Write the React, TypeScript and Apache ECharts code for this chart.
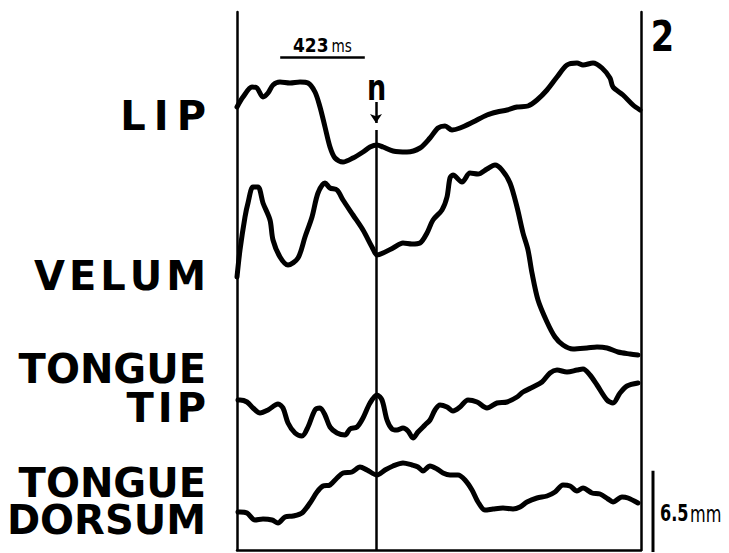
import React, { useEffect, useRef } from "react";
import * as echarts from "echarts";

// Time axis in ms, displacement axis in mm (stacked channel traces)
const X_MAX_MS = 2020;
const Y_MAX_MM = 43.04;
const NASAL_ONSET_MS = 695;
const N_LINE_TOP_MM = 33.6;
const N_ARROW_MM = [35.84, 34.16];
const TIME_BAR_MS = [216, 639]; // 423 ms
const TIME_BAR_Y_MM = 39.44;
const MM_BAR = 6.5;
const PANEL_NUMBER = "2";

const channelLabels = [
  { text: "L\u2009I\u2009P", y: 116, lineHeight: 40 },
  { text: "V\u200AE\u200AL\u200AU\u200AM", y: 276, lineHeight: 40 },
  { text: "TONGUE\nT\u200AI\u200AP", y: 388.5, lineHeight: 39 },
  { text: "TONGUE\nDORSUM", y: 501.5, lineHeight: 37 },
];

const lipTrace = [
  [0, 35.44], [30, 36.24], [75, 37.04], [100, 36.96], [130, 36.24], [155, 36.56],
  [180, 37.2], [215, 37.44], [265, 37.36], [315, 37.44], [355, 37.36], [390, 36.64],
  [415, 35.44], [440, 33.84], [465, 32.24], [490, 31.36], [530, 31.04], [580, 31.36],
  [630, 31.84], [665, 32.24], [700, 32.4], [730, 32.24], [780, 31.92], [850, 31.84],
  [915, 32.16], [965, 32.96], [1005, 33.76], [1040, 33.92], [1075, 33.6], [1115, 33.76],
  [1180, 34.24], [1250, 34.8], [1300, 35.04], [1350, 35.2], [1400, 35.44], [1455, 35.52],
  [1500, 36.0], [1550, 36.8], [1600, 37.84], [1650, 38.8], [1700, 38.96], [1730, 38.8],
  [1780, 38.96], [1825, 38.56], [1865, 37.76], [1880, 37.04], [1930, 36.4], [1980, 35.6],
  [2015, 35.2],
];

const velumTrace = [
  [0, 21.84], [15, 24.0], [40, 26.64], [55, 27.76], [80, 29.04], [105, 29.04],
  [130, 27.76], [165, 26.4], [180, 24.8], [215, 23.44], [255, 22.8], [305, 23.36],
  [340, 25.04], [375, 26.64], [405, 28.56], [440, 29.36], [465, 28.96], [500, 28.8],
  [530, 28.0], [580, 26.8], [630, 25.6], [675, 24.24], [700, 23.6], [730, 23.76],
  [780, 24.16], [830, 24.56], [875, 24.48], [915, 24.56], [950, 25.36], [980, 26.4],
  [1025, 27.2], [1050, 28.24], [1065, 29.76], [1080, 30.0], [1125, 29.44], [1165, 30.16],
  [1205, 30.08], [1250, 30.48], [1290, 30.8], [1325, 30.4], [1365, 29.36], [1400, 27.44],
  [1430, 25.36], [1455, 24.0], [1475, 22.16], [1505, 20.0], [1550, 18.24], [1590, 17.04],
  [1630, 16.4], [1680, 16.08], [1750, 16.16], [1800, 16.24], [1850, 16.16], [1905, 15.84],
  [1965, 15.68], [2005, 15.6],
];

const tongueTipTrace = [
  [5, 12.0], [15, 12.0], [50, 11.84], [80, 11.36], [115, 10.96], [155, 11.2], [205, 11.68],
  [230, 11.36], [255, 10.16], [290, 9.36], [325, 9.12], [355, 9.84], [390, 11.2],
  [415, 11.36], [440, 10.8], [465, 9.84], [500, 9.36], [540, 9.2], [565, 9.68],
  [600, 9.84], [630, 10.56], [665, 11.76], [700, 12.4], [725, 12.0], [750, 10.4],
  [775, 9.68], [800, 9.6], [830, 9.76], [855, 9.52], [880, 8.96], [905, 9.44],
  [940, 10.0], [965, 10.4], [990, 11.2], [1015, 11.6], [1050, 11.44], [1080, 11.12],
  [1115, 11.44], [1155, 12.0], [1200, 11.84], [1250, 11.36], [1300, 11.76], [1350, 11.84],
  [1400, 12.24], [1430, 12.64], [1480, 13.04], [1525, 13.44], [1565, 14.16], [1600, 14.4],
  [1650, 14.24], [1700, 14.4], [1730, 14.48], [1765, 14.0], [1800, 13.2], [1850, 12.0],
  [1880, 11.76], [1915, 12.56], [1950, 13.12], [2005, 13.36],
];

const tongueDorsumTrace = [
  [5, 3.04], [15, 3.04], [50, 2.96], [90, 2.4], [130, 2.48], [175, 2.4], [205, 2.16],
  [240, 2.64], [280, 2.72], [325, 2.96], [365, 3.76], [400, 4.64], [430, 5.12],
  [465, 5.2], [500, 5.76], [530, 6.16], [575, 6.24], [615, 6.64], [650, 6.4],
  [700, 6.0], [740, 6.4], [780, 6.72], [830, 6.96], [875, 6.8], [905, 6.64],
  [930, 6.32], [965, 6.72], [1000, 6.48], [1030, 6.16], [1065, 6.0], [1105, 6.0],
  [1140, 5.6], [1175, 4.8], [1205, 3.84], [1240, 3.2], [1280, 3.28], [1330, 3.36],
  [1380, 3.28], [1415, 3.44], [1450, 3.84], [1500, 4.16], [1550, 4.32], [1590, 4.64],
  [1630, 5.2], [1665, 5.12], [1700, 4.72], [1730, 4.96], [1775, 4.56], [1815, 4.48],
  [1855, 4.08], [1880, 3.84], [1925, 4.24], [1955, 4.16], [2005, 3.76],
];

const traces = [lipTrace, velumTrace, tongueTipTrace, tongueDorsumTrace];

const LABEL_FONT = 'bold 40px "DejaVu Sans", sans-serif';

export default function App() {
  const ref = useRef<HTMLDivElement>(null);

  useEffect(() => {
    document.body.style.margin = "0";
    if (!ref.current) return;
    const chart = echarts.init(ref.current, undefined, { renderer: "svg" });

    const lineStyle = { color: "#000", width: 5, cap: "round", join: "round" };

    const series: any[] = traces.map((data, i) => ({
      type: "line",
      name: channelLabels[i].text.replace(/\n/g, " "),
      data,
      showSymbol: false,
      smooth: 0.3,
      lineStyle,
      silent: true,
      clip: false,
    }));

    // markers: nasal onset line, arrow and 423 ms time bar
    series[0].markLine = {
      silent: true,
      animation: false,
      symbol: "none",
      label: { show: false },
      lineStyle: { color: "#000", width: 2.5, type: "solid" },
      data: [
        [{ coord: [NASAL_ONSET_MS, N_LINE_TOP_MM] }, { coord: [NASAL_ONSET_MS, 0] }],
        [{ coord: [TIME_BAR_MS[0], TIME_BAR_Y_MM] }, { coord: [TIME_BAR_MS[1], TIME_BAR_Y_MM] }],
        [
          { coord: [NASAL_ONSET_MS, N_ARROW_MM[0]], symbol: "none" },
          { coord: [NASAL_ONSET_MS, N_ARROW_MM[1]], symbol: "arrow", symbolSize: [9, 9] },
        ],
      ],
    };

    const axisLine = { show: true, onZero: false, lineStyle: { color: "#000", width: 2.5 } };

    chart.setOption({
      animation: false,
      backgroundColor: "#fff",
      grid: { left: 237, right: 88, top: 12, bottom: 3 },
      xAxis: {
        type: "value",
        min: 0,
        max: X_MAX_MS,
        axisLine,
        axisTick: { show: false },
        axisLabel: { show: false },
        splitLine: { show: false },
      },
      yAxis: [
        {
          type: "value",
          min: 0,
          max: Y_MAX_MM,
          axisLine,
          axisTick: { show: false },
          axisLabel: { show: false },
          splitLine: { show: false },
        },
        {
          type: "value",
          position: "right",
          min: 0,
          max: Y_MAX_MM,
          axisLine,
          axisTick: { show: false },
          axisLabel: { show: false },
          splitLine: { show: false },
        },
      ],
      series,
    });

    const p0 = chart.convertToPixel({ gridIndex: 0 }, [0, 0]) as number[];
    const p1 = chart.convertToPixel({ gridIndex: 0 }, [0, MM_BAR]) as number[];
    const mmLen = p0[1] - p1[1];
    const barMid = chart.convertToPixel({ gridIndex: 0 }, [(TIME_BAR_MS[0] + TIME_BAR_MS[1]) / 2, 0]) as number[];
    const nX = (chart.convertToPixel({ gridIndex: 0 }, [NASAL_ONSET_MS, 0]) as number[])[0];

    const elements: any[] = [];
    channelLabels.forEach((c) => {
      elements.push({
        type: "text",
        x: 206,
        y: c.y,
        style: {
          text: c.text,
          font: LABEL_FONT,
          lineHeight: c.lineHeight,
          fill: "#000",
          textAlign: "right",
          textVerticalAlign: "middle",
        },
      });
    });
    // time bar label
    elements.push({
      type: "text",
      x: barMid[0] + 6,
      y: 44.5,
      scaleX: 0.85,
      style: { text: String(TIME_BAR_MS[1] - TIME_BAR_MS[0]), font: 'bold 20px "DejaVu Sans", sans-serif', fill: "#000", textAlign: "right", textVerticalAlign: "middle" },
    });
    elements.push({
      type: "text",
      x: barMid[0] + 9,
      y: 46,
      scaleX: 0.8,
      style: { text: "ms", font: '17px "DejaVu Sans", sans-serif', fill: "#000", textAlign: "left", textVerticalAlign: "middle" },
    });
    // n label
    elements.push({
      type: "text",
      x: nX + 0.5,
      y: 87.5,
      scaleX: 0.75,
      style: { text: "n", font: 'bold 36px "DejaVu Sans", sans-serif', fill: "#000", textAlign: "center", textVerticalAlign: "middle" },
    });
    // panel number
    elements.push({
      type: "text",
      x: 662.5,
      y: 36.5,
      scaleX: 0.8,
      style: { text: PANEL_NUMBER, font: 'bold 42px "DejaVu Sans", sans-serif', fill: "#000", textAlign: "center", textVerticalAlign: "middle" },
    });
    // mm scale bar
    elements.push({
      type: "line",
      shape: { x1: 653, y1: 552, x2: 653, y2: 552 - mmLen },
      style: { stroke: "#000", lineWidth: 3 },
    });
    elements.push({
      type: "text",
      x: 660,
      y: 513.5,
      scaleX: 0.7,
      style: { text: String(MM_BAR), font: 'bold 23px "DejaVu Sans", sans-serif', fill: "#000", textAlign: "left", textVerticalAlign: "middle" },
    });
    elements.push({
      type: "text",
      x: 690,
      y: 514,
      scaleX: 0.7,
      style: { text: "mm", font: '23px "DejaVu Sans", sans-serif', fill: "#000", textAlign: "left", textVerticalAlign: "middle" },
    });

    chart.setOption({ graphic: { elements } });

    return () => chart.dispose();
  }, []);

  return <div ref={ref} style={{ width: 729, height: 553 }} />;
}
